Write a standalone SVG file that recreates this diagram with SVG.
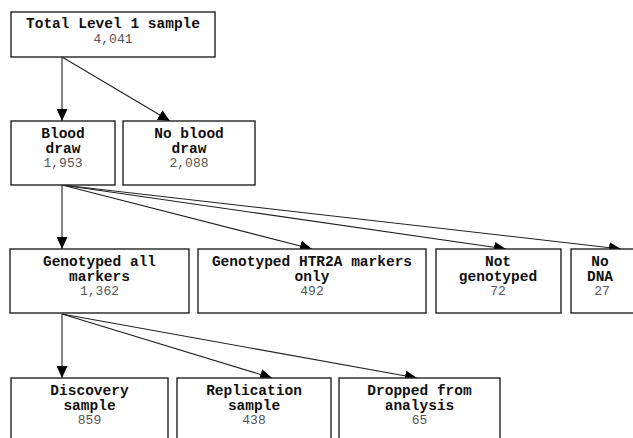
<svg xmlns="http://www.w3.org/2000/svg" width="633" height="438" viewBox="0 0 633 438">
<style>
.box{fill:#fff;stroke:#222;stroke-width:1.4}
.lbl{font-family:"Liberation Mono","Courier New",monospace;font-weight:bold;font-size:14.5px;fill:#111;text-anchor:middle}
.num{font-family:"Liberation Mono","Courier New",monospace;font-size:13px;fill:#555;text-anchor:middle}
.con{stroke:#222;stroke-width:1.1;fill:none;marker-end:url(#ah)}
</style>
<defs>
<marker id="ah" markerUnits="userSpaceOnUse" markerWidth="12" markerHeight="11" refX="12" refY="5.5" orient="auto">
<path d="M0,0 L12,5.5 L0,11 z" fill="#000"/>
</marker>
</defs>
<rect width="633" height="438" fill="#fff"/>
<g id="connectors">
<line class="con" x1="62" y1="57" x2="62" y2="121"/>
<line class="con" x1="62" y1="57" x2="170" y2="121"/>
<line class="con" x1="62" y1="185" x2="62" y2="249"/>
<line class="con" x1="62" y1="185" x2="312" y2="249"/>
<line class="con" x1="62" y1="185" x2="506" y2="249"/>
<line class="con" x1="62" y1="185" x2="621" y2="249"/>
<line class="con" x1="62" y1="314" x2="62" y2="378"/>
<line class="con" x1="62" y1="314" x2="272" y2="378"/>
<line class="con" x1="62" y1="314" x2="417" y2="378"/>
</g>
<g id="total">
<rect class="box" x="11" y="12" width="204" height="45"/>
<text class="lbl" x="113" y="28">Total Level 1 sample</text>
<text class="num" x="113" y="43">4,041</text>
</g>
<g id="blood">
<rect class="box" x="11" y="121" width="104" height="64"/>
<text class="lbl" x="63" y="138">Blood</text>
<text class="lbl" x="63" y="153">draw</text>
<text class="num" x="63" y="167">1,953</text>
</g>
<g id="noblood">
<rect class="box" x="123" y="121" width="132" height="64"/>
<text class="lbl" x="189" y="138">No blood</text>
<text class="lbl" x="189" y="153">draw</text>
<text class="num" x="189" y="167">2,088</text>
</g>
<g id="gall">
<rect class="box" x="10" y="249" width="179" height="64"/>
<text class="lbl" x="99.5" y="266">Genotyped all</text>
<text class="lbl" x="99.5" y="280.5">markers</text>
<text class="num" x="99.5" y="295">1,362</text>
</g>
<g id="ghtr">
<rect class="box" x="198" y="249" width="228" height="64"/>
<text class="lbl" x="312" y="266">Genotyped HTR2A markers</text>
<text class="lbl" x="312" y="280.5">only</text>
<text class="num" x="312" y="295">492</text>
</g>
<g id="notg">
<rect class="box" x="436" y="249" width="125" height="64"/>
<text class="lbl" x="498" y="266">Not</text>
<text class="lbl" x="498" y="280.5">genotyped</text>
<text class="num" x="498" y="295">72</text>
</g>
<g id="nodna">
<rect class="box" x="571" y="249" width="80" height="64"/>
<text class="lbl" x="600" y="266">No</text>
<text class="lbl" x="600" y="280.5">DNA</text>
<text class="num" x="602" y="295">27</text>
</g>
<g id="disc">
<rect class="box" x="11" y="378" width="157" height="70"/>
<text class="lbl" x="89.5" y="395">Discovery</text>
<text class="lbl" x="89.5" y="409.5">sample</text>
<text class="num" x="89.5" y="424">859</text>
</g>
<g id="repl">
<rect class="box" x="177" y="378" width="154" height="70"/>
<text class="lbl" x="254" y="395">Replication</text>
<text class="lbl" x="254" y="409.5">sample</text>
<text class="num" x="254" y="424">438</text>
</g>
<g id="drop">
<rect class="box" x="339" y="378" width="161" height="70"/>
<text class="lbl" x="419.5" y="395">Dropped from</text>
<text class="lbl" x="419.5" y="409.5">analysis</text>
<text class="num" x="419.5" y="424">65</text>
</g>
</svg>
